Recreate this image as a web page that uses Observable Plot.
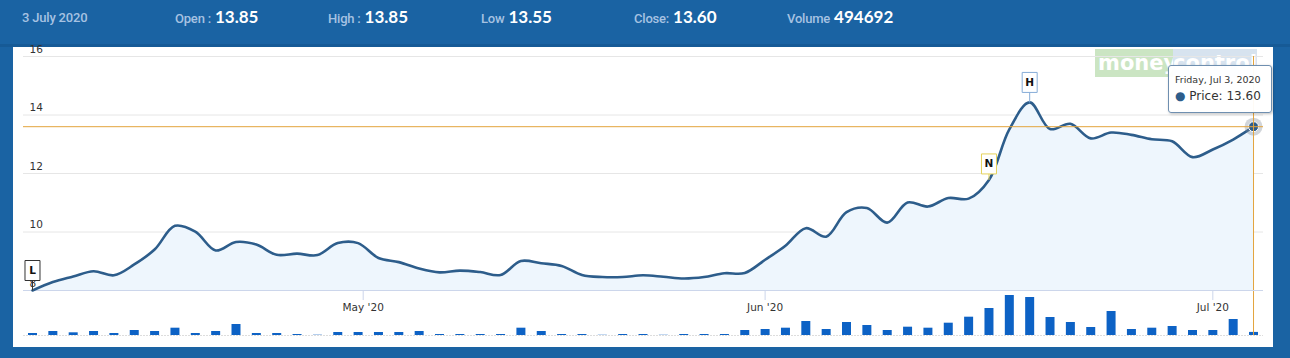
<!DOCTYPE html>
<html><head><meta charset="utf-8">
<script src="https://cdn.jsdelivr.net/npm/d3@7"></script>
<script src="https://cdn.jsdelivr.net/npm/@observablehq/plot@0.6"></script>
<style>
html,body{margin:0;padding:0;}
body{width:1290px;height:358px;background:#1a63a3;position:relative;overflow:hidden;font-family:"DejaVu Sans",sans-serif;}
#header{position:absolute;left:0;top:0;width:1290px;height:44px;border-bottom:3px solid #165a96;}
.hi{position:absolute;top:6px;height:24px;display:flex;align-items:baseline;white-space:nowrap;}
.hl{color:#a6c2e2;font-family:Roboto,sans-serif;font-size:13px;font-weight:500;letter-spacing:-0.2px;margin-right:4px;}
.hv{color:#fff;font-family:Lato,sans-serif;font-size:17px;font-weight:bold;}
#panel{position:absolute;left:13px;top:47px;width:1260px;height:300px;background:#fff;}
#wm{position:absolute;left:1095px;top:49px;width:157px;height:28px;display:flex;opacity:0.4;}
#wm span{font-family:"DejaVu Sans",sans-serif;font-weight:bold;font-size:21px;line-height:28px;color:#fff;}
#wm .m{background:#7fbf6c;padding-left:3px;width:75px;}
#wm .c{background:#9dbad8;flex:1;}
#tip{position:absolute;left:1168px;top:65px;width:102px;height:46px;background:rgba(255,255,255,0.95);border:1px solid #6f8fb0;border-radius:3px;box-shadow:1px 1px 3px rgba(0,0,0,0.25);font-family:"DejaVu Sans",sans-serif;color:#333;}
#tip .d{position:absolute;left:6px;top:8px;font-size:9.5px;}
#tip .p{position:absolute;left:6px;top:23px;font-size:12px;}
#tip .p b{color:#2d5d8b;font-weight:normal;}
</style>
</head><body>
<div id="header"></div>
<div id="panel"></div>
<div id="wm"><span class="m">money</span><span class="c">control</span></div>
<div id="charts"></div>
<div id="tip"><div class="d"></div><div class="p"></div></div>
<script>
// ---- data ----
const headerDate = "3 July 2020";
const headerLabels = ["Open :", "High :", "Low", "Close:", "Volume"];
const headerValues = ["13.85", "13.85", "13.55", "13.60", "494692"];

const prices = [8.00, 8.29, 8.48, 8.66, 8.52, 8.89, 9.40, 10.21, 10.01, 9.37,
  9.66, 9.57, 9.22, 9.26, 9.21, 9.62, 9.62, 9.11, 8.97, 8.75,
  8.62, 8.68, 8.63, 8.53, 9.01, 8.93, 8.84, 8.53, 8.46, 8.46,
  8.52, 8.47, 8.41, 8.46, 8.59, 8.60, 9.05, 9.53, 10.13, 9.84,
  10.68, 10.82, 10.32, 11.01, 10.87, 11.16, 11.14, 11.78, 13.51, 14.43,
  13.52, 13.70, 13.20, 13.40, 13.32, 13.17, 13.10, 12.56, 12.82, 13.16, 13.60];

const volumes = [320000, 640000, 430000, 640000, 320000, 800000, 640000, 1170000, 320000, 640000,
  1760000, 320000, 320000, 160000, 50000, 480000, 480000, 480000, 480000, 640000,
  160000, 160000, 160000, 160000, 1170000, 640000, 160000, 160000, 40000, 160000,
  160000, 40000, 160000, 160000, 160000, 800000, 960000, 1170000, 2240000, 960000,
  2080000, 1600000, 800000, 1330000, 1170000, 1970000, 2930000, 4320000, 6400000, 6080000,
  2880000, 2080000, 1280000, 3840000, 960000, 1170000, 1440000, 800000, 800000, 2560000, 494692];

const xTickPos = [16.25, 36, 58];
const xTickLabels = ["May '20", "Jun '20", "Jul '20"];
const yTicks = [8, 10, 12, 14, 16];

const flagIndex = [0, 47, 49];
const flagLetters = ["L", "N", "H"];

const tipDate = "Friday, Jul 3, 2020";
const tipLabel = "Price";

// ---- header ----
const header = document.getElementById("header");
const d0 = document.createElement("div");
d0.className = "hi"; d0.style.left = "22px"; d0.style.top = "10px";
d0.innerHTML = `<span class="hl">${headerDate}</span>`;
header.appendChild(d0);
headerLabels.forEach((l, k) => {
  const d = document.createElement("div");
  d.className = "hi"; d.style.left = (175 + 153 * k) + "px";
  d.innerHTML = `<span class="hl">${l}</span><span class="hv">${headerValues[k]}</span>`;
  header.appendChild(d);
});

// ---- chart ----
const series = prices.map((p, i) => ({i, price: p, vol: volumes[i]}));
const last = series[series.length - 1];
const flags = flagIndex.map((ix, k) => ({i: ix, price: prices[ix], label: flagLetters[k]}));
const flagStyle = {L: {stem: 10, color: "#333"}, N: {stem: 6, color: "#e5d25a"}, H: {stem: 10, color: "#86acd8"}};

const xDomain = [-0.442, 60.49];
const lineColor = "#2d5d8b";
const cross = "#e3a43d";
const curve = "catmull-rom";

function flagSymbol(stem) {
  return {draw(ctx) { ctx.moveTo(0, 0); ctx.lineTo(0, -stem); ctx.rect(-7.5, -stem - 20, 15, 20); }};
}
const tickLabelMap = new Map(xTickPos.map((t, k) => [t, xTickLabels[k]]));

const flagMarks = flags.flatMap(f => {
  const s = flagStyle[f.label];
  return [
    Plot.dot([f], {x: "i", y: "price", symbol: flagSymbol(s.stem), r: 5, fill: "#fff", stroke: s.color, strokeWidth: 1}),
    Plot.text([f], {x: "i", y: "price", text: "label", dy: -(s.stem + 10), fontWeight: "bold", fontSize: 10.5, fill: "#111"})
  ];
});

const price = Plot.plot({
  width: 1260, height: 270,
  marginLeft: 10, marginRight: 10, marginTop: 9, marginBottom: 27,
  style: {background: "transparent", fontFamily: "DejaVu Sans", fontSize: "10.5px", overflow: "visible"},
  x: {domain: xDomain, label: null},
  y: {domain: [8, 16], label: null},
  marks: [
    Plot.ruleY(yTicks.filter(t => t > 8), {stroke: "#e6e6e6"}),
    Plot.areaY(series, {x: "i", y: "price", curve, fill: "#eef6fd", clip: true}),
    Plot.ruleY([8], {stroke: "#ccd6eb"}),
    Plot.axisX({ticks: xTickPos, tickFormat: d => tickLabelMap.get(d), tickSize: 10, tickPadding: 3, stroke: "#ccd6eb", fill: "#333", label: null}),
    Plot.axisY({ticks: yTicks, tickSize: 0, tickPadding: 0, textAnchor: "start", dx: 6, dy: -7, fill: "#333", label: null}),
    Plot.line(series, {x: "i", y: "price", curve, stroke: lineColor, strokeWidth: 2.6}),
    Plot.dot([last], {x: "i", y: "price", r: 9, fill: "#7a8794", fillOpacity: 0.35}),
    Plot.dot([last], {x: "i", y: "price", r: 5, fill: lineColor, stroke: "#fff", strokeWidth: 1}),
    Plot.ruleY([last], {y: "price", stroke: cross}),
    Plot.ruleX([last], {x: "i", stroke: cross}),
    ...flagMarks
  ]
});

const vol = Plot.plot({
  width: 1260, height: 46,
  marginLeft: 10, marginRight: 10, marginTop: 0, marginBottom: 1,
  style: {background: "transparent", overflow: "visible"},
  x: {domain: xDomain, axis: null},
  y: {domain: [0, 7200000], axis: null},
  marks: [
    Plot.ruleY([0], {stroke: "#dddddd", strokeDasharray: "2,1"}),
    Plot.ruleX(series, {x: "i", y1: 0, y2: "vol", stroke: "#0d62c5", strokeWidth: 9}),
    Plot.ruleX([last], {x: "i", stroke: cross})
  ]
});

const charts = document.getElementById("charts");
vol.style.position = "absolute"; vol.style.left = "13px"; vol.style.top = "290px";
price.style.position = "absolute"; price.style.left = "13px"; price.style.top = "47px";
charts.appendChild(vol);
charts.appendChild(price);

// tooltip
document.querySelector("#tip .d").textContent = tipDate;
document.querySelector("#tip .p").innerHTML = `<b>●</b> ${tipLabel}: ${last.price.toFixed(2)}`;
</script>
</body></html>
